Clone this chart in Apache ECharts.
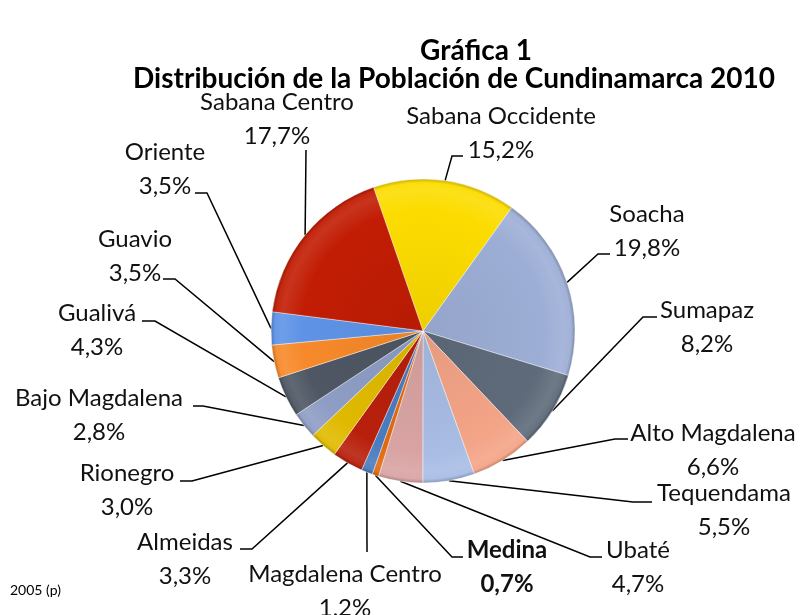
<!DOCTYPE html>
<html lang="es">
<head>
<meta charset="UTF-8">
<title>Gráfica 1</title>
<script src="https://cdn.jsdelivr.net/npm/echarts@6/dist/echarts.min.js"></script>
<style>
  html, body { margin: 0; padding: 0; background: #fff; }
  #chart { width: 800px; height: 615px; }
</style>
</head>
<body>
<div id="chart"></div>
<script>
  // datos (en orden horario desde la parte superior)
  var regiones = ['Sabana Occidente', 'Soacha', 'Sumapaz', 'Alto Magdalena', 'Tequendama', 'Ubaté',
    'Medina', 'Magdalena Centro', 'Almeidas', 'Rionegro', 'Bajo Magdalena', 'Gualivá', 'Guavio',
    'Oriente', 'Sabana Centro'];
  var porcentajes = [15.2, 19.8, 8.2, 6.6, 5.5, 4.7, 0.7, 1.2, 3.3, 3.0, 2.8, 4.3, 3.5, 3.5, 17.7];
  var colores = ['#FCDC00', '#9DAED6', '#5F6B7A', '#F4A487', '#A8BCE4', '#D9A3A3', '#E0690F',
    '#4A7CC0', '#B8200C', '#E0BA00', '#8E9DC4', '#4E5763', '#F7892A', '#5E93E6', '#C21D04'];

  // geometria del pastel
  var cx = 423, cy = 331, radio = 152, inicio = 109;

  // posicion de cada etiqueta (centro del bloque) y extremo de su linea guia [x, y, tramo horizontal]
  var posEtiqueta = [[501, 133], [647, 231], [707, 327], [713, 450], [724, 510], [638, 567],
    [507, 567], [345, 591], [185, 559], [127, 490], [99, 415], [97, 330], [135, 256], [165, 169], [277, 119]];
  var finLinea = [[463, 156, -11], [610, 254, -12], [657, 317, -14], [628, 439, -13], [652, 502, -19],
    [602, 557, -12], [463, 557, -11], [367, 552, 0], [240, 549, 12], [180, 481, 12], [193, 406, 10],
    [142, 321, 13], [163, 279, 12], [195, 193, 12], [306, 150, 0]];

  var total = porcentajes.reduce(function (a, b) { return a + b; }, 0);
  var acumulado = [];
  porcentajes.reduce(function (a, v, i) { acumulado[i] = a + v / 2; return a + v; }, 0);

  // mezcla un color con blanco (t > 0) o negro (t < 0)
  function mezcla(c, t) {
    var n = parseInt(c.slice(1), 16);
    var rgb = [(n >> 16) & 255, (n >> 8) & 255, n & 255];
    var d = t > 0 ? 255 : 0, k = Math.abs(t);
    return 'rgb(' + rgb.map(function (v) { return Math.round(v + (d - v) * k); }).join(',') + ')';
  }

  function relleno(c) {
    return {
      type: 'radial', x: cx, y: cy, r: radio, global: true,
      colorStops: [
        { offset: 0, color: mezcla(c, -0.06) },
        { offset: 0.8, color: c },
        { offset: 0.93, color: mezcla(c, 0.1) },
        { offset: 0.975, color: mezcla(c, 0.05) },
        { offset: 1, color: mezcla(c, -0.2) }
      ]
    };
  }

  var chart = echarts.init(document.getElementById('chart'));

  chart.setOption({
    animation: false,
    title: [
      {
        text: 'Gráfica 1', left: 471, top: 32, textAlign: 'center',
        textStyle: { fontFamily: 'Lato', fontSize: 28, fontWeight: 'bold', color: '#000' }
      },
      {
        text: 'Distribución de la Población de Cundinamarca 2010', left: 449, top: 60, textAlign: 'center',
        textStyle: { fontFamily: 'Lato', fontSize: 28, fontWeight: 'bold', color: '#000' }
      },
      {
        text: '2005 (p)', left: 5, top: 578,
        textStyle: { fontFamily: 'Lato', fontSize: 14, fontWeight: 'normal', color: '#000' }
      }
    ],
    series: [{
      type: 'pie',
      center: [cx, cy],
      radius: radio,
      startAngle: inicio,
      clockwise: true,
      avoidLabelOverlap: false,
      itemStyle: { borderColor: 'rgba(255,255,255,0.4)', borderWidth: 1 },
      label: {
        show: true,
        fontFamily: 'Lato',
        fontSize: 24,
        lineHeight: 34,
        color: '#111',
        formatter: function (p) {
          return p.name + '\n' + p.value.toFixed(1).replace('.', ',') + '%';
        }
      },
      labelLine: { show: true, lineStyle: { color: '#000', width: 1.5 } },
      labelLayout: function (p) {
        var i = p.dataIndex;
        var a = (inicio - 360 * acumulado[i] / total) * Math.PI / 180;
        var borde = [cx + radio * Math.cos(a), cy - radio * Math.sin(a)];
        var f = finLinea[i];
        return {
          x: posEtiqueta[i][0],
          y: posEtiqueta[i][1],
          align: 'center',
          verticalAlign: 'middle',
          labelLinePoints: [borde, [f[0] + f[2], f[1]], [f[0], f[1]]]
        };
      },
      data: regiones.map(function (n, i) {
        var d = { name: n, value: porcentajes[i], itemStyle: { color: relleno(colores[i]) } };
        if (n === 'Medina') d.label = { fontWeight: 'bold' };
        return d;
      })
    }]
  });
</script>
</body>
</html>
